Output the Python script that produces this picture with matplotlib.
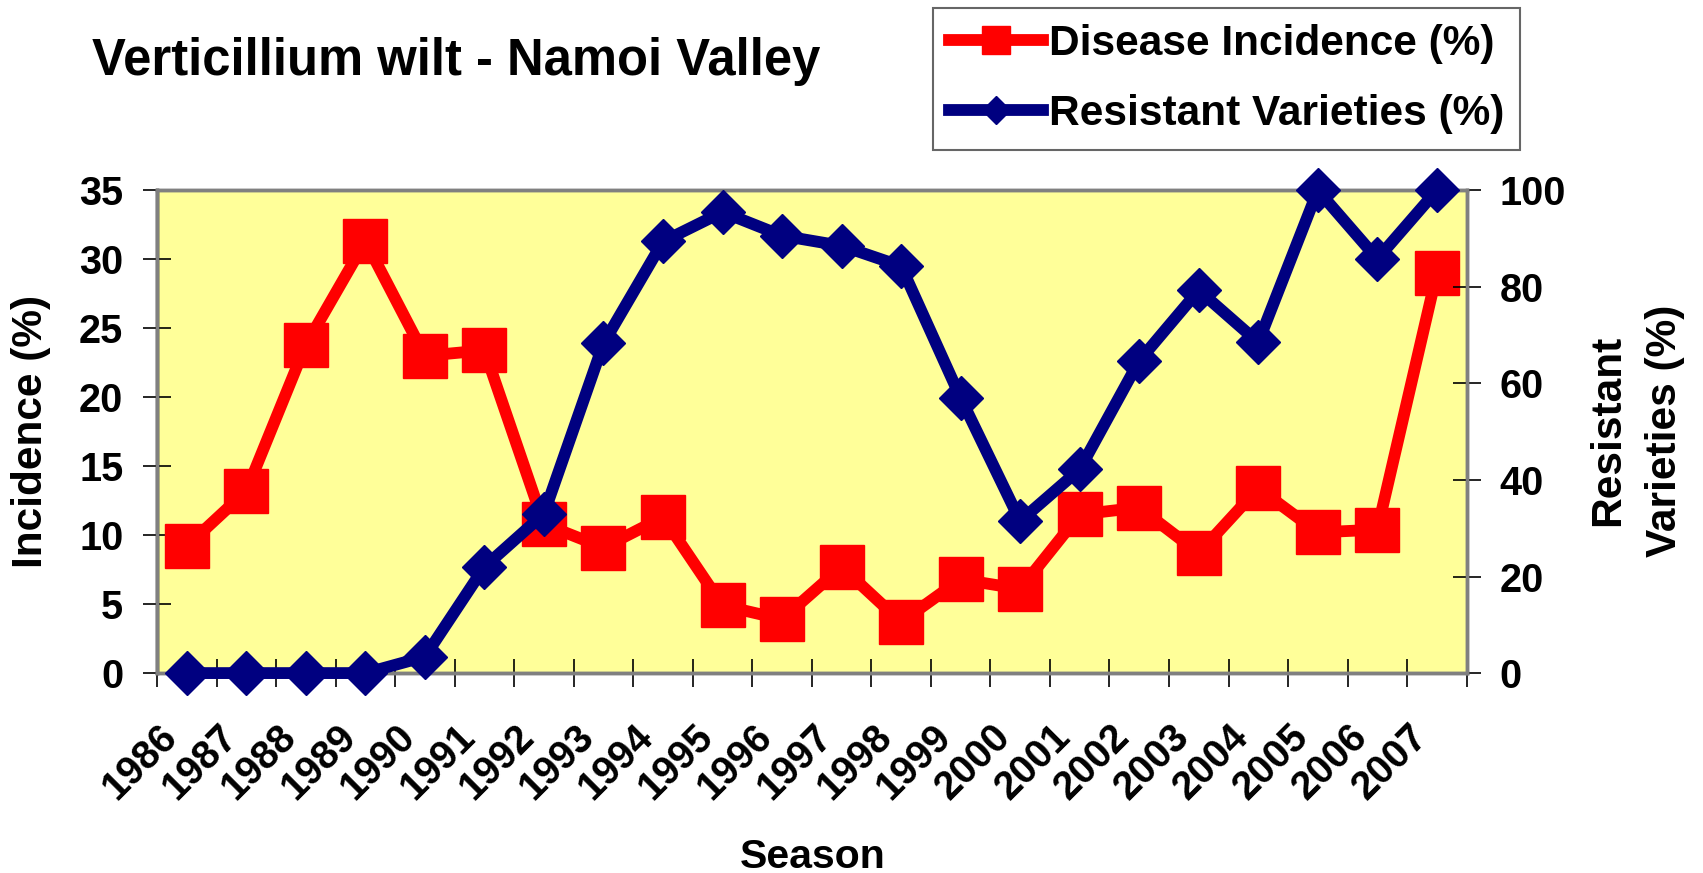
import numpy as np
import matplotlib
matplotlib.use('Agg')
import matplotlib.pyplot as plt
from matplotlib.transforms import ScaledTranslation

seasons = [str(y) for y in range(1986, 2008)]
incidence = [9.2, 13.2, 23.8, 31.3, 23.0, 23.4, 10.8, 9.1, 11.3, 4.9, 3.9,
             7.7, 3.7, 6.8, 6.1, 11.5, 12.0, 8.7, 13.4, 10.2, 10.4, 29.0]
resistant = [0, 0, 0, 0, 3.4, 22, 33, 68.3, 89.4, 95.5, 90.6,
             88.5, 84.3, 57, 31.5, 42.2, 64.7, 79.3, 68.5, 100, 85.8, 100]

plt.rcParams['font.family'] = ['Liberation Sans', 'DejaVu Sans']
plt.rcParams['font.weight'] = 'bold'

fig = plt.figure(figsize=(17.03, 8.73), dpi=100)
ax = fig.add_axes([0.0922, 0.229, 0.769, 0.553])
ax.set_facecolor('#FFFF99')
ax2 = ax.twinx()

x = np.arange(len(seasons))
l1, = ax.plot(x, incidence, color='#FF0000', lw=8.5, marker='s', ms=31,
              clip_on=False, zorder=3, label='Disease Incidence (%)')
l2, = ax2.plot(x, resistant, color='#000080', lw=8.5, marker='D', ms=22.5,
               clip_on=False, zorder=4, label='Resistant Varieties (%)')

ax.set_xlim(-0.5, len(seasons) - 0.5)
ax.set_ylim(0, 35)
ax2.set_ylim(0, 100)
ax.set_yticks(range(0, 36, 5))
ax2.set_yticks(range(0, 101, 20))

ax.set_xticks(x)
ax.set_xticklabels(seasons, rotation=45, ha='right', rotation_mode='anchor')
ax.set_xticks(np.arange(-0.5, len(seasons), 1), minor=True)
ax.tick_params(axis='x', which='major', length=0, pad=32, labelsize=28.5)
ax.tick_params(axis='x', which='minor', direction='inout', length=19.5, width=1.2)
ax.tick_params(axis='y', direction='inout', length=19.5, width=1.2, pad=14.5, labelsize=28.5)
ax2.tick_params(axis='y', direction='inout', length=19.5, width=1.2, pad=14, labelsize=28.5)

# shift the slanted season labels a bit left, like the original
shift = ScaledTranslation(-29 / 100, 0, fig.dpi_scale_trans)
for lbl in ax.get_xticklabels():
    lbl.set_transform(lbl.get_transform() + shift)

for a in (ax, ax2):
    for s in a.spines.values():
        s.set_color('#808080')
        s.set_linewidth(2.5)
ax.spines['left'].set_color('black')

fig.text(0.054, 0.914, 'Verticillium wilt - Namoi Valley', fontsize=36.5,
         fontweight='bold', ha='left', va='baseline')
fig.text(0.018, 0.506, 'Incidence (%)', rotation=90, fontsize=30.5,
         fontweight='bold', ha='center', va='center')
fig.text(0.961, 0.507, 'Resistant\nVarieties (%)', rotation=90, fontsize=30.5,
         fontweight='bold', ha='center', va='center', linespacing=1.55)
fig.text(0.477, 0.006, 'Season', fontsize=29.5, fontweight='bold',
         ha='center', va='baseline')

leg = fig.legend(handles=[l1, l2], loc='upper left',
                 bbox_to_anchor=(0.548, 0.991), borderaxespad=0, fontsize=30.5,
                 frameon=True, fancybox=False, handlelength=2.2,
                 markerscale=0.65, borderpad=0.38, labelspacing=0.71,
                 handletextpad=0.15)
leg.get_frame().set_edgecolor('#404040')
leg.get_frame().set_linewidth(1.5)

fig.savefig('out.png', dpi=100)
